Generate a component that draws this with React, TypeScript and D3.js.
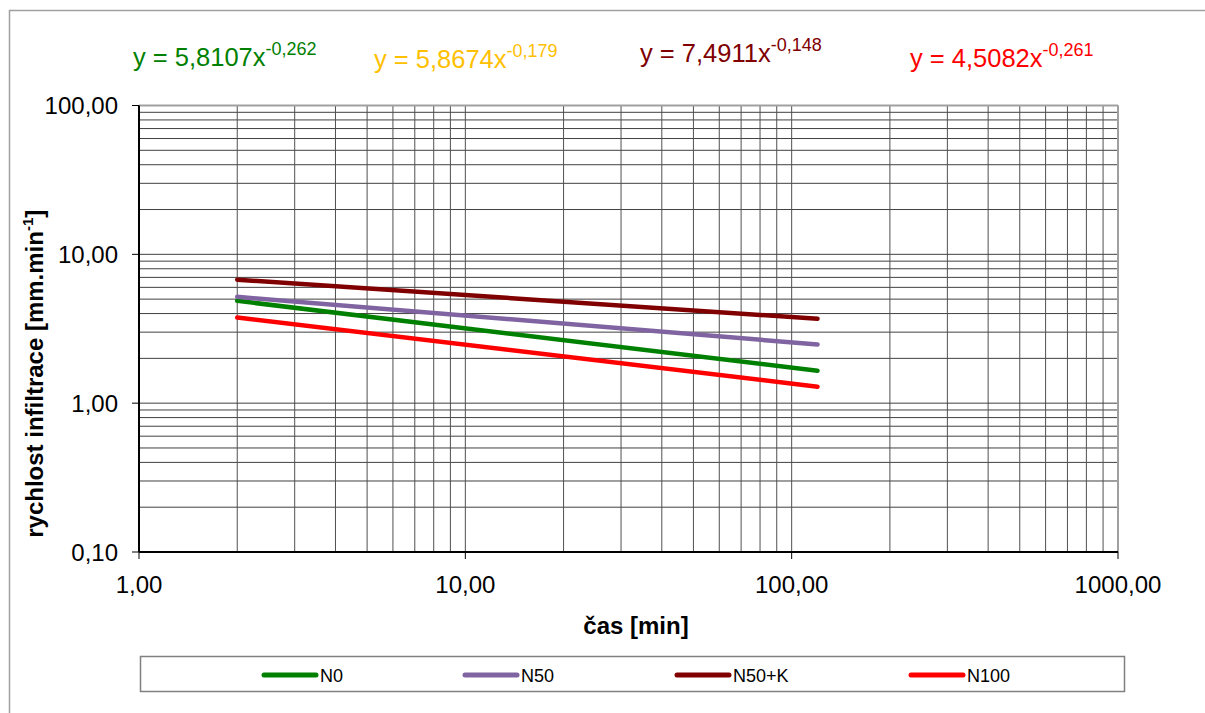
import React from "react";
import * as d3 from "d3";

const seriesNames = ["N0", "N50", "N50+K", "N100"];
const seriesColors = ["#008000", "#8064A2", "#800000", "#FF0000"];
const timeValues = [2, 120];
const n0Values = [4.87, 1.65];
const n50Values = [5.18, 2.48];
const n50kValues = [6.75, 3.69];
const n100Values = [3.76, 1.29];
const equationBase = ["5,8107", "5,8674", "7,4911", "4,5082"];
const equationExp = ["-0,262", "-0,179", "-0,148", "-0,261"];
const equationColors = ["#008000", "#FFC000", "#800000", "#FF0000"];
const xTickLabels = ["1,00", "10,00", "100,00", "1000,00"];
const yTickLabels = ["0,10", "1,00", "10,00", "100,00"];
const xTicks = [1, 10, 100, 1000];
const yTicks = [0.1, 1, 10, 100];

const W = 1205;
const H = 713;
const left = 139;
const right = 1118;
const top = 105.5;
const bottom = 552;

export default function App() {
  const x = d3.scaleLog().domain([1, 1000]).range([left, right]);
  const y = d3.scaleLog().domain([0.1, 100]).range([bottom, top]);
  const allSeries = [n0Values, n50Values, n50kValues, n100Values];
  const line = d3
    .line<[number, number]>()
    .x((d) => x(d[0]))
    .y((d) => y(d[1]));

  const minorX: number[] = [];
  for (let dec = 1; dec < 1000; dec *= 10)
    for (let k = 2; k <= 9; k++) minorX.push(dec * k);
  const minorY: number[] = [];
  for (let dec = 0.1; dec < 99; dec *= 10)
    for (let k = 2; k <= 9; k++) minorY.push(dec * k);

  const eqX = [133, 374, 640, 910];
  const eqY = [66, 68, 62, 67];
  const legendX = [262, 463, 675, 909];

  return (
    <svg
      width={W}
      height={H}
      style={{ position: "absolute", left: 0, top: 0, fontFamily: "Arial, 'Liberation Sans', sans-serif" }}
    >
      <rect x={0} y={0} width={W} height={H} fill="#fff" />
      <rect x={9.5} y={10.5} width={W + 10} height={H + 10} fill="#fff" stroke="#a0a0a0" strokeWidth={1.5} />
      {/* equations */}
      {equationBase.map((b, i) => (
        <text key={i} x={eqX[i]} y={eqY[i]} fill={equationColors[i]} fontSize={25.5}>
          {"y = " + b + "x"}
          <tspan fontSize={18} dy={-11}>
            {equationExp[i]}
          </tspan>
        </text>
      ))}
      {/* grid */}
      {minorY.map((v) => (
        <line key={"my" + v} x1={left} x2={right} y1={y(v)} y2={y(v)} stroke="#404040" strokeWidth={1} />
      ))}
      {minorX.map((v) => (
        <line key={"mx" + v} x1={x(v)} x2={x(v)} y1={top} y2={bottom} stroke="#505050" strokeWidth={1} />
      ))}
      {yTicks.map((v) => (
        <line key={"gy" + v} x1={left} x2={right} y1={y(v)} y2={y(v)} stroke="#404040" strokeWidth={1} />
      ))}
      {xTicks.map((v) => (
        <line key={"gx" + v} x1={x(v)} x2={x(v)} y1={top} y2={bottom} stroke="#505050" strokeWidth={1} />
      ))}
      {/* plot border */}
      <line x1={left} x2={right} y1={top} y2={top} stroke="#a0a0a0" strokeWidth={2} />
      <line x1={right} x2={right} y1={top} y2={bottom} stroke="#a0a0a0" strokeWidth={2} />
      <line x1={left} x2={left} y1={top} y2={bottom} stroke="#000" strokeWidth={2} />
      <line x1={left} x2={right} y1={bottom} y2={bottom} stroke="#000" strokeWidth={2} />
      {/* ticks */}
      {yTicks.map((v, i) => (
        <g key={"ty" + v}>
          <line x1={left - 7} x2={left} y1={y(v)} y2={y(v)} stroke="#000" strokeWidth={1} />
          <text x={118} y={y(v) + 8.5} textAnchor="end" fontSize={24} fill="#000">
            {yTickLabels[i]}
          </text>
        </g>
      ))}
      {xTicks.map((v, i) => (
        <g key={"tx" + v}>
          <line x1={x(v)} x2={x(v)} y1={bottom} y2={bottom + 7} stroke="#000" strokeWidth={1} />
          <text x={x(v)} y={593} textAnchor="middle" fontSize={24} fill="#000">
            {xTickLabels[i]}
          </text>
        </g>
      ))}
      {/* series */}
      {allSeries.map((vals, i) => (
        <path
          key={seriesNames[i]}
          d={line(timeValues.map((t, j) => [t, vals[j]] as [number, number])) || ""}
          fill="none"
          stroke={seriesColors[i]}
          strokeWidth={4.5}
          strokeLinecap="round"
        />
      ))}
      {/* axis titles */}
      <text x={636} y={634} textAnchor="middle" fontSize={24} fontWeight="bold" fill="#000">
        čas [min]
      </text>
      <text
        transform={`translate(43,${(top + bottom) / 2 + 45}) rotate(-90)`}
        textAnchor="middle"
        fontSize={24}
        fontWeight="bold"
        fill="#000"
      >
        rychlost infiltrace [mm.min
        <tspan fontSize={15} dy={-10}>
          -1
        </tspan>
        <tspan dy={10}>]</tspan>
      </text>
      {/* legend */}
      <rect x={140.5} y={656.5} width={984} height={35} fill="#fff" stroke="#808080" strokeWidth={1.5} />
      {seriesNames.map((n, i) => (
        <g key={"lg" + n}>
          <line
            x1={legendX[i] + 2}
            x2={legendX[i] + 54}
            y1={675}
            y2={675}
            stroke={seriesColors[i]}
            strokeWidth={5}
            strokeLinecap="round"
          />
          <text x={legendX[i] + 58} y={681.5} fontSize={18} fill="#000">
            {n}
          </text>
        </g>
      ))}
    </svg>
  );
}
